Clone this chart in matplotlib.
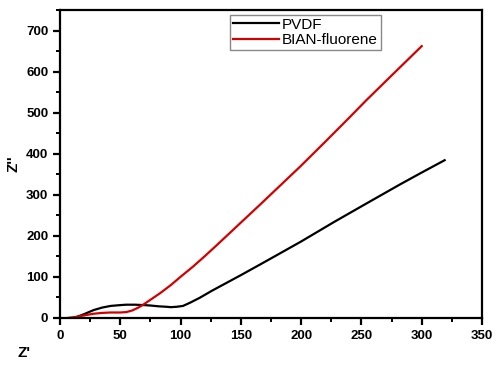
import matplotlib.pyplot as plt
from matplotlib.ticker import MultipleLocator

plt.rcParams['font.family'] = ['Liberation Sans', 'DejaVu Sans']

# PVDF (black)
pvdf_x = [12, 20, 28, 35, 42, 50, 55, 62, 70, 75, 82, 88, 92, 97, 102, 108, 116, 126, 138, 150, 166,
          180, 200, 227, 255, 282, 300, 319]
pvdf_y = [0, 9, 19, 25, 29, 31, 32, 32, 31, 30, 28, 27, 26, 27, 29, 37, 49, 66, 85, 104, 130,
          153, 186, 233, 280, 325, 354, 384]

# BIAN-fluorene (red)
bian_x = [7, 15, 22, 28, 35, 42, 50, 55, 60, 65, 69, 75, 83, 92, 100, 110, 120, 130, 138, 150, 166,
          180, 199, 220, 240, 254, 270, 285, 300]
bian_y = [0, 3, 7, 10, 12, 13, 13, 14, 18, 25, 32, 44, 60, 80, 100, 124, 150, 177, 199, 232, 276,
          315, 368, 429, 488, 530, 576, 619, 662]

fig = plt.figure(figsize=(5, 3.7), dpi=100)
ax = fig.add_axes([0.12, 0.141, 0.844, 0.832])

ax.plot(pvdf_x, pvdf_y, c='black', lw=1.6, label='PVDF')
ax.plot(bian_x, bian_y, c='#d40000', lw=1.6, label='BIAN-fluorene')

ax.set_xlim(0, 350)
ax.set_ylim(0, 750)
ax.xaxis.set_major_locator(MultipleLocator(50))
ax.xaxis.set_minor_locator(MultipleLocator(25))
ax.yaxis.set_major_locator(MultipleLocator(100))
ax.yaxis.set_minor_locator(MultipleLocator(50))
ax.set_yticks(range(0, 701, 100))

for s in ax.spines.values():
    s.set_linewidth(1.6)
ax.tick_params(which='major', direction='out', length=5, width=1.6, labelsize=9.5)
ax.tick_params(which='minor', direction='out', length=3, width=1.4)
for lbl in ax.get_xticklabels() + ax.get_yticklabels():
    lbl.set_fontweight('bold')

ax.set_ylabel("Z''", fontsize=11, fontweight='bold', labelpad=4)
fig.text(0.035, 0.035, "Z'", fontsize=11, fontweight='bold')

ax.legend(loc='upper left', bbox_to_anchor=(0.403, 0.985), fontsize=11, fancybox=False,
          edgecolor='#888888', framealpha=1, borderpad=0.2, handlelength=3.0,
          handletextpad=0.2, labelspacing=0.1, borderaxespad=0)

fig.savefig('out.png', dpi=100)
